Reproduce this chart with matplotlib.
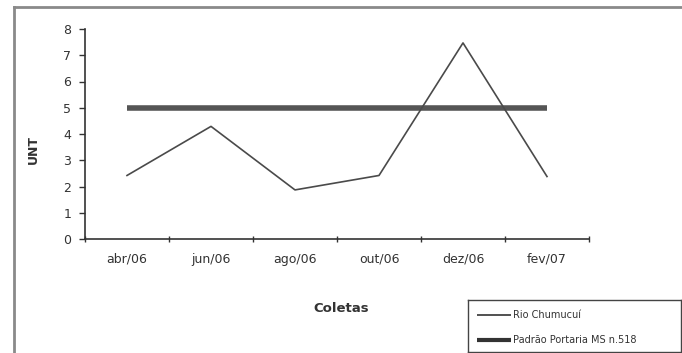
import matplotlib
matplotlib.use("Agg")
import matplotlib.pyplot as plt
from matplotlib.lines import Line2D
import numpy as np

categories = ["abr/06", "jun/06", "ago/06", "out/06", "dez/06", "fev/07"]
turbidez = [2.42, 4.29, 1.87, 2.42, 7.47, 2.38]
padrao = [5, 5, 5, 5, 5, 5]
y_ticks = [0, 1, 2, 3, 4, 5, 6, 7, 8]

W, H = 682, 353
fig = plt.figure(figsize=(W / 100, H / 100), dpi=100)
fig.patch.set_facecolor("white")

def fx(px):
    return px / W

def fy(py):
    return 1 - py / H

# outer chart frame (left and top edges)
fig.add_artist(Line2D([fx(14), fx(14)], [fy(7), fy(353)], color="#8a8a8a", lw=2))
fig.add_artist(Line2D([fx(14), fx(682)], [fy(7), fy(7)], color="#8a8a8a", lw=2))

ax = fig.add_axes([fx(85), fy(239), fx(589) - fx(85), fy(29) - fy(239)])
ax.set_facecolor("white")

x = np.arange(len(categories)) + 0.5
ax.plot(x, padrao, color="#555555", lw=4, solid_capstyle="butt")
ax.plot(x, turbidez, color="#4a4a4a", lw=1.2)

ax.set_xlim(0, len(categories))
ax.set_ylim(0, 8)
ax.set_yticks(y_ticks)
ax.set_yticklabels([str(v) for v in y_ticks])
ax.set_xticks(np.arange(len(categories) + 1))
ax.set_xticklabels([])
ax.set_xticks(x, minor=True)
ax.set_xticklabels(categories, minor=True)
ax.tick_params(axis="x", which="major", direction="inout", length=5, color="#333333", width=1)
ax.tick_params(axis="x", which="minor", length=0, pad=10, labelsize=9, labelcolor="#333333")
ax.tick_params(axis="y", direction="out", length=4, color="#333333", width=1,
               labelsize=9, labelcolor="#333333", pad=6)

for s in ["top", "right"]:
    ax.spines[s].set_visible(False)
for s in ["left", "bottom"]:
    ax.spines[s].set_color("#333333")
    ax.spines[s].set_linewidth(1.2)

fig.text(fx(33), fy(149), "UNT", rotation=90, ha="center", va="center",
         fontsize=9, fontweight="bold", color="#333333")
fig.text(fx(341), fy(309), "Coletas", ha="center", va="center",
         fontsize=9.5, fontweight="bold", color="#333333")

# legend box
lax = fig.add_axes([fx(468), fy(352), fx(681) - fx(468), fy(300) - fy(352)])
lax.set_xlim(0, 1)
lax.set_ylim(0, 1)
lax.set_xticks([])
lax.set_yticks([])
for s in lax.spines.values():
    s.set_color("#444444")
    s.set_linewidth(1)
lw_leg = [1.2, 3]
labels = ["Rio Chumucuí", "Padrão Portaria MS n.518"]
ys = [0.72, 0.24]
for yy, lab, lw in zip(ys, labels, lw_leg):
    lax.plot([0.04, 0.2], [yy, yy], color="#333333", lw=lw, solid_capstyle="butt")
    lax.text(0.21, yy, lab, ha="left", va="center", fontsize=7, color="#333333")

fig.savefig("out.png", dpi=100)
